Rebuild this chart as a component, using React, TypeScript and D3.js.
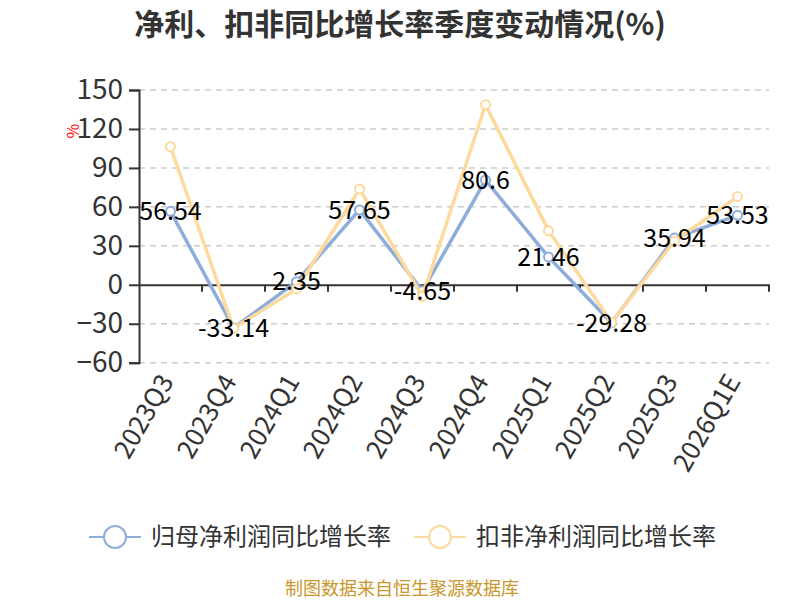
import { useEffect, useRef } from 'react';
import * as d3 from 'd3';

const categories = ['2023Q3', '2023Q4', '2024Q1', '2024Q2', '2024Q3', '2024Q4', '2025Q1', '2025Q2', '2025Q3', '2026Q1E'];
const netProfitGrowth = [56.54, -33.14, 2.35, 57.65, -4.65, 80.6, 21.46, -29.28, 35.94, 53.53];
const deductedGrowth = [106.3, -33.5, -3.2, 73.8, -9.1, 138.7, 41.7, -28.9, 33.7, 67.9];
const yTicks = [150, 120, 90, 60, 30, 0, -30, -60];
const seriesNames = ['归母净利润同比增长率', '扣非净利润同比增长率'];

const BLUE = '#8eaddb';
const ORANGE = '#fed99e';
const FONT = '"Microsoft YaHei", "Noto Sans CJK SC", "Noto Sans", sans-serif';

export default function App() {
    const svgRef = useRef(null);

    useEffect(() => {
        const svg = d3.select(svgRef.current);
        svg.selectAll('*').remove();

        const left = 139;
        const right = 769;
        const top = 90;
        const bottom = 362.7;

        const x = d3.scaleBand().domain(categories).range([left, right]);
        const y = d3.scaleLinear().domain([-60, 150]).range([bottom, top]);
        const cx = (c) => x(c) + x.bandwidth() / 2;

        // title
        svg.append('text')
            .attr('x', 400).attr('y', 35)
            .attr('text-anchor', 'middle')
            .attr('font-size', 30).attr('font-weight', 'bold')
            .attr('fill', '#333')
            .attr('font-family', FONT)
            .text('净利、扣非同比增长率季度变动情况(%)');

        // grid lines
        svg.append('g').selectAll('line')
            .data(yTicks.filter((t) => t !== 0))
            .join('line')
            .attr('x1', left).attr('x2', right)
            .attr('y1', (d) => y(d)).attr('y2', (d) => y(d))
            .attr('stroke', '#ccc').attr('stroke-width', 1.5)
            .attr('stroke-dasharray', '6,5');

        // y axis
        const yAxis = svg.append('g')
            .attr('transform', `translate(${left},0)`)
            .call(d3.axisLeft(y).tickValues(yTicks).tickSize(10).tickPadding(6));
        yAxis.select('.domain').attr('stroke', '#333').attr('stroke-width', 2);
        yAxis.selectAll('.tick line').attr('stroke', '#333').attr('stroke-width', 2);
        yAxis.selectAll('.tick text')
            .attr('font-size', 28).attr('fill', '#333').attr('font-family', FONT);

        // % unit
        svg.append('text')
            .attr('transform', 'translate(73,131) rotate(-90)')
            .attr('text-anchor', 'middle')
            .attr('dy', '0.35em')
            .attr('font-size', 16).attr('fill', 'red')
            .attr('font-family', FONT)
            .text('%');

        // x axis at zero
        const xAxis = svg.append('g')
            .attr('transform', `translate(0,${y(0)})`)
            .call(d3.axisBottom(x).tickSize(0).tickFormat(() => ''));
        xAxis.select('.domain').attr('stroke', '#333').attr('stroke-width', 2);
        svg.append('g').selectAll('line')
            .data(categories)
            .join('line')
            .attr('x1', (d) => x(d) + x.step())
            .attr('x2', (d) => x(d) + x.step())
            .attr('y1', y(0)).attr('y2', y(0) + 7)
            .attr('stroke', '#333').attr('stroke-width', 2);

        // x labels
        svg.append('g').selectAll('text')
            .data(categories)
            .join('text')
            .attr('transform', (d) => `translate(${cx(d) - 4},${bottom + 14}) rotate(-60)`)
            .attr('text-anchor', 'end')
            .attr('dy', '0.35em')
            .attr('font-size', 26).attr('fill', '#333')
            .attr('font-family', FONT)
            .text((d) => d);

        const line = d3.line().x((d) => cx(d[0])).y((d) => y(d[1]));

        const drawSeries = (values, color) => {
            const pts = categories.map((c, i) => [c, values[i]]);
            svg.append('path')
                .datum(pts)
                .attr('d', line)
                .attr('fill', 'none')
                .attr('stroke', color).attr('stroke-width', 3.5)
                .attr('stroke-linejoin', 'round');
            svg.append('g').selectAll('circle')
                .data(pts)
                .join('circle')
                .attr('cx', (d) => cx(d[0])).attr('cy', (d) => y(d[1]))
                .attr('r', 4.5)
                .attr('fill', '#fff')
                .attr('stroke', color).attr('stroke-width', 2);
        };

        drawSeries(netProfitGrowth, BLUE);
        drawSeries(deductedGrowth, ORANGE);

        // data labels for net profit
        svg.append('g').selectAll('text')
            .data(categories.map((c, i) => [c, netProfitGrowth[i]]))
            .join('text')
            .attr('x', (d) => cx(d[0])).attr('y', (d) => y(d[1]))
            .attr('dy', '0.35em')
            .attr('text-anchor', 'middle')
            .attr('font-size', 25).attr('fill', '#000')
            .attr('font-family', FONT)
            .text((d) => d[1]);

        // legend
        const legend = svg.append('g');
        const legendItems = [
            { name: seriesNames[0], color: BLUE, x: 89 },
            { name: seriesNames[1], color: ORANGE, x: 414 },
        ];
        legendItems.forEach((item) => {
            const g = legend.append('g').attr('transform', `translate(${item.x},537)`);
            g.append('line').attr('x1', 0).attr('x2', 52)
                .attr('stroke', item.color).attr('stroke-width', 2);
            g.append('circle').attr('cx', 26).attr('r', 11)
                .attr('fill', '#fff').attr('stroke', item.color).attr('stroke-width', 2);
            g.append('text').attr('x', 62).attr('dy', '0.35em')
                .attr('font-size', 24).attr('fill', '#333')
                .attr('font-family', FONT)
                .text(item.name);
        });

        // source note
        svg.append('text')
            .attr('x', 402).attr('y', 595)
            .attr('text-anchor', 'middle')
            .attr('font-size', 18).attr('fill', '#c8962a')
            .attr('font-family', FONT)
            .text('制图数据来自恒生聚源数据库');
    }, []);

    return (
        <svg
            ref={svgRef}
            width={800}
            height={600}
            style={{ position: 'absolute', left: 0, top: 0, background: '#fff', fontFamily: FONT }}
        />
    );
}
